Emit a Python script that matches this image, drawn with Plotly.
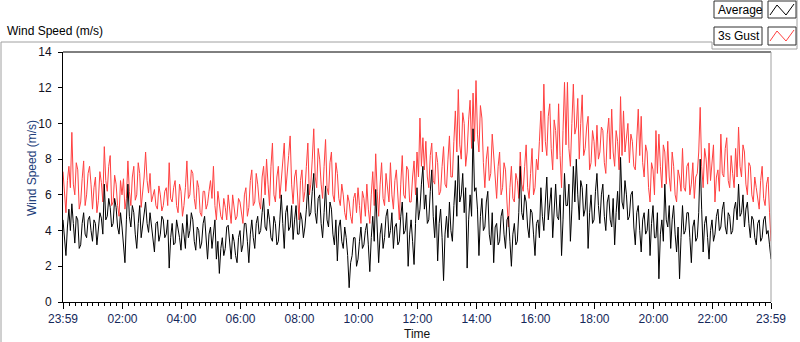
import plotly.graph_objects as go
import pandas as pd

# ---- data (3-minute samples, 23:59 -> 23:59 next day) ----
gust = [
    7.3, 5.8, 5.0, 6.8, 7.6, 6.4, 9.5, 6.6, 6.0, 7.8, 7.4, 5.2, 5.6, 6.9, 7.9, 5.4, 6.0, 7.2, 7.6, 6.6,
    5.2, 6.4, 7.0, 5.0, 5.7, 7.3, 6.7, 5.6, 8.7, 6.8, 6.2, 7.6, 8.2, 5.4, 5.6, 7.1, 6.6, 5.4, 4.8, 6.8,
    6.0, 6.9, 5.2, 5.8, 7.9, 6.2, 5.4, 7.0, 7.6, 5.7, 6.0, 7.8, 7.2, 5.3, 6.0, 7.0, 8.4, 6.8, 6.1, 7.2,
    5.6, 6.0, 6.3, 5.4, 5.2, 6.5, 6.0, 5.1, 5.4, 6.2, 6.4, 5.4, 7.8, 5.8, 5.6, 6.4, 6.8, 5.4, 5.0, 6.6,
    6.2, 4.8, 5.4, 6.4, 7.9, 5.8, 6.0, 7.4, 7.2, 5.8, 5.2, 6.8, 6.4, 5.0, 4.8, 6.2, 6.2, 5.2, 5.5, 6.2,
    6.8, 5.8, 7.6, 5.4, 4.6, 6.2, 5.6, 4.8, 4.6, 5.8, 5.3, 4.6, 6.0, 5.2, 4.4, 6.0, 5.4, 4.6, 4.8, 5.8,
    5.6, 5.0, 4.4, 6.0, 6.4, 4.8, 5.3, 6.8, 7.4, 5.4, 5.6, 7.2, 6.6, 5.6, 5.2, 7.0, 7.6, 6.0, 8.0, 6.6,
    5.4, 7.6, 8.9, 6.0, 5.6, 7.0, 7.6, 5.8, 6.8, 7.8, 8.9, 6.2, 7.0, 8.2, 9.3, 6.6, 5.5, 7.0, 7.4, 6.0,
    4.6, 6.8, 7.4, 5.6, 6.2, 7.6, 8.9, 6.0, 6.6, 8.0, 9.7, 7.0, 6.4, 8.6, 8.0, 6.6, 5.8, 7.6, 9.1, 6.4,
    6.0, 7.8, 8.4, 6.0, 5.6, 7.8, 7.2, 5.8, 5.4, 6.6, 6.0, 5.0, 4.6, 6.0, 5.6, 4.8, 4.4, 5.8, 6.1, 5.0,
    6.4, 5.4, 4.4, 6.2, 5.8, 4.8, 6.6, 5.2, 4.4, 6.0, 7.3, 5.4, 8.3, 6.2, 4.8, 6.6, 7.8, 5.8, 5.4, 7.2,
    6.4, 5.6, 7.8, 6.0, 5.2, 6.8, 7.4, 5.6, 4.6, 6.6, 8.2, 6.0, 5.8, 7.6, 7.4, 5.6, 5.6, 7.0, 7.9, 6.0,
    8.4, 7.0, 10.3, 7.6, 9.2, 7.4, 9.0, 7.0, 6.4, 8.2, 8.9, 6.8, 6.6, 8.4, 7.8, 6.0, 6.2, 7.6, 8.7, 6.6,
    6.4, 8.0, 9.3, 7.0, 7.0, 9.0, 10.7, 8.4, 11.9, 8.8, 8.0, 10.6, 10.0, 7.6, 8.4, 10.2, 11.3, 8.6, 11.7, 9.0,
    12.4, 9.4, 8.4, 11.0, 10.3, 7.8, 6.4, 8.0, 8.7, 6.8, 7.2, 9.4, 8.2, 6.6, 5.8, 7.6, 8.4, 6.0, 6.4, 7.8,
    7.4, 5.6, 4.2, 6.4, 7.6, 5.8, 5.6, 7.2, 6.8, 5.8, 8.4, 6.6, 6.2, 7.6, 8.8, 6.4, 5.8, 7.2, 8.6, 6.0,
    6.4, 8.0, 7.4, 9.0, 10.7, 8.4, 12.2, 9.0, 8.2, 10.4, 11.1, 8.6, 7.4, 10.2, 9.6, 8.0, 11.1, 8.2, 6.4, 9.6,
    12.3, 8.8, 12.3, 8.6, 7.6, 10.0, 12.2, 9.4, 9.8, 11.4, 8.0, 10.0, 11.6, 8.2, 8.6, 9.8, 10.4, 7.4, 7.8, 9.6,
    9.0, 7.6, 9.9, 8.0, 8.4, 9.8, 9.6, 7.8, 7.2, 9.4, 10.3, 8.0, 10.8, 8.4, 7.6, 9.6, 9.0, 7.4, 11.5, 8.2,
    10.7, 8.4, 9.2, 10.0, 7.8, 9.4, 9.0, 7.6, 7.4, 9.6, 10.8, 8.2, 10.4, 7.8, 7.0, 8.8, 8.4, 6.4, 5.6, 7.8,
    7.4, 6.0, 9.6, 7.2, 9.4, 7.6, 6.4, 8.8, 8.4, 6.6, 9.0, 7.0, 6.2, 8.4, 7.6, 6.0, 5.6, 7.4, 7.0, 6.2,
    8.6, 6.4, 6.2, 7.6, 7.8, 6.0, 6.6, 7.8, 5.8, 7.0, 7.2, 8.4, 10.9, 7.6, 6.4, 8.6, 8.0, 6.6, 8.9, 6.8,
    7.6, 8.8, 5.6, 7.0, 7.4, 6.2, 9.4, 7.2, 7.0, 8.6, 9.2, 6.8, 6.4, 8.2, 7.2, 6.4, 8.6, 7.0, 9.8, 7.6,
    7.0, 8.8, 8.4, 6.6, 6.0, 7.8, 7.6, 6.0, 5.6, 7.0, 6.4, 5.6, 5.2, 6.8, 7.6, 5.8, 5.4, 6.6, 7.0, 5.0,
    3.4,
]

average = [
    4.6, 3.6, 2.6, 4.2, 5.2, 4.0, 5.5, 4.4, 3.3, 4.8, 4.6, 3.0, 3.2, 4.4, 5.0, 3.8, 3.6, 4.6, 4.8, 4.0,
    3.4, 4.6, 4.4, 3.2, 4.0, 5.0, 4.7, 3.8, 6.6, 4.6, 4.8, 5.8, 5.3, 4.2, 4.4, 5.8, 5.3, 4.2, 3.8, 5.0,
    4.2, 3.4, 2.2, 4.6, 6.6, 4.8, 4.2, 5.4, 5.0, 3.8, 3.0, 4.4, 5.4, 3.6, 4.4, 5.2, 5.6, 4.4, 3.9, 5.0,
    4.2, 3.6, 2.8, 4.4, 4.5, 3.4, 3.8, 4.8, 4.6, 3.6, 3.8, 4.6, 1.9, 3.6, 4.4, 3.2, 3.3, 4.6, 4.2, 3.6,
    2.9, 4.4, 3.8, 3.0, 4.9, 3.6, 4.0, 5.0, 4.6, 3.4, 2.9, 4.2, 4.0, 3.0, 3.3, 4.4, 4.8, 3.6, 2.4, 3.8,
    4.2, 3.0, 3.8, 4.6, 2.4, 3.4, 1.6, 3.0, 3.6, 2.6, 3.0, 4.2, 4.3, 3.2, 2.4, 3.8, 3.4, 2.6, 2.2, 3.6,
    4.0, 2.8, 3.2, 4.4, 4.4, 3.4, 2.2, 3.8, 4.6, 3.6, 3.0, 4.4, 4.8, 3.8, 4.0, 5.0, 5.8, 4.2, 4.0, 5.2,
    4.6, 3.6, 3.4, 4.8, 4.4, 3.2, 3.4, 4.6, 6.0, 4.4, 3.0, 5.0, 5.4, 4.0, 4.2, 5.4, 3.5, 4.6, 5.4, 3.8,
    3.8, 5.0, 4.6, 3.6, 4.2, 5.2, 6.6, 4.8, 5.0, 6.2, 7.2, 5.0, 4.4, 5.8, 6.0, 4.4, 3.6, 5.0, 6.5, 4.6,
    4.2, 5.6, 5.2, 3.8, 3.2, 4.6, 2.3, 4.2, 4.6, 3.4, 3.0, 4.2, 3.6, 2.6, 0.8, 2.2, 2.6, 3.6, 3.6, 2.0,
    2.4, 3.4, 4.2, 3.0, 3.2, 4.0, 4.4, 3.2, 1.7, 3.6, 4.8, 3.4, 6.3, 4.2, 2.2, 3.8, 4.4, 3.0, 3.6, 4.8,
    5.2, 3.6, 4.0, 5.0, 3.0, 4.2, 4.4, 3.2, 3.4, 4.8, 5.6, 3.8, 4.0, 5.0, 2.0, 3.8, 4.6, 3.4, 2.1, 4.4,
    6.4, 4.6, 5.2, 6.6, 7.6, 5.2, 6.0, 4.4, 4.6, 6.2, 7.4, 4.8, 3.6, 5.4, 2.3, 4.4, 5.2, 3.6, 1.2, 3.8,
    4.8, 3.6, 5.6, 4.0, 3.4, 5.4, 6.8, 4.8, 8.2, 5.6, 6.0, 7.2, 5.0, 6.4, 1.9, 4.6, 6.0, 4.8, 9.7, 6.2,
    6.4, 5.2, 2.6, 4.8, 5.8, 4.0, 4.2, 5.6, 6.2, 3.8, 3.2, 5.0, 2.2, 4.2, 4.4, 3.2, 3.4, 4.8, 5.2, 3.8,
    3.0, 4.6, 4.8, 3.4, 2.0, 3.8, 4.4, 3.2, 3.4, 5.0, 7.6, 5.0, 4.6, 6.0, 5.6, 4.2, 3.6, 5.2, 5.0, 3.8,
    2.6, 4.4, 4.6, 3.6, 6.4, 4.8, 4.0, 5.6, 7.0, 4.6, 5.4, 6.4, 3.6, 5.0, 6.6, 4.8, 4.6, 6.0, 2.6, 4.6,
    7.2, 5.4, 5.4, 6.6, 3.4, 5.2, 7.6, 5.6, 8.0, 6.0, 4.6, 6.8, 6.4, 4.8, 5.2, 6.6, 3.0, 5.0, 6.0, 4.4,
    4.6, 6.2, 7.2, 5.4, 4.4, 6.0, 6.6, 4.8, 4.0, 5.6, 6.0, 4.6, 4.2, 5.8, 3.2, 5.0, 6.2, 4.6, 8.1, 5.6,
    5.2, 6.8, 6.0, 4.6, 4.8, 6.0, 6.2, 4.2, 3.2, 5.0, 5.4, 4.0, 2.8, 4.6, 5.0, 3.8, 4.0, 5.2, 2.6, 4.4,
    5.4, 3.6, 3.6, 5.0, 1.3, 3.8, 4.6, 3.4, 6.6, 4.6, 4.2, 5.4, 3.0, 4.6, 5.4, 3.8, 2.8, 4.2, 1.3, 3.6,
    5.4, 3.8, 4.0, 5.0, 5.0, 3.6, 2.2, 4.2, 4.6, 3.4, 3.6, 5.0, 8.0, 5.2, 2.8, 4.4, 4.8, 3.6, 2.4, 4.0,
    4.6, 3.4, 3.8, 4.8, 5.2, 4.0, 4.2, 5.2, 5.6, 4.2, 3.8, 5.0, 4.8, 3.8, 4.0, 5.2, 5.6, 4.6, 6.6, 4.8,
    5.0, 6.0, 4.2, 5.2, 5.6, 4.4, 3.6, 4.8, 4.6, 3.6, 3.2, 4.4, 4.6, 3.4, 3.6, 4.6, 4.8, 3.8, 4.0, 3.2,
    2.4,
]

times = pd.date_range("2000-01-01 23:59", periods=len(gust), freq="3min")

tick_vals = ["2000-01-01 23:59", "2000-01-02 02:00", "2000-01-02 04:00", "2000-01-02 06:00",
             "2000-01-02 08:00", "2000-01-02 10:00", "2000-01-02 12:00", "2000-01-02 14:00",
             "2000-01-02 16:00", "2000-01-02 18:00", "2000-01-02 20:00", "2000-01-02 22:00",
             "2000-01-02 23:59"]
tick_text = ["23:59", "02:00", "04:00", "06:00", "08:00", "10:00", "12:00", "14:00",
             "16:00", "18:00", "20:00", "22:00", "23:59"]

# ---- layout helpers (pixel -> paper) ----
L, R, T, B = 63, 771, 52, 302
W, H = 800, 342


def px(x):
    return (x - L) / (R - L)


def py(y):
    return (B - y) / (B - T)


FONT = "Liberation Sans"
GREY = "#a0a0a0"

fig = go.Figure()
fig.add_trace(go.Scatter(x=times, y=gust, mode="lines", name="3s Gust",
                         line=dict(color="#ff4040", width=1), showlegend=False))
fig.add_trace(go.Scatter(x=times[:len(average)], y=average, mode="lines", name="Average",
                         line=dict(color="#000000", width=1), showlegend=False))

shapes = []


def line(x0, y0, x1, y1, color, width=1):
    shapes.append(dict(type="line", xref="paper", yref="paper",
                       x0=px(x0), y0=py(y0), x1=px(x1), y1=py(y1),
                       line=dict(color=color, width=width)))


def rect(x0, y0, x1, y1, color):
    shapes.append(dict(type="rect", xref="paper", yref="paper",
                       x0=px(x0), y0=py(y0), x1=px(x1), y1=py(y1),
                       line=dict(color=color, width=1), fillcolor="white"))


def zigzag(pts, color):
    path = "M " + " L ".join(f"{px(a)},{py(b)}" for a, b in pts)
    shapes.append(dict(type="path", xref="paper", yref="paper", path=path,
                       line=dict(color=color, width=1)))


# outer frame
line(1, 42, 1, 342, GREY)
line(1, 42, 712, 42, GREY)
line(712, 42, 712, 49, GREY)
line(712, 49, 797, 49, GREY)
line(797, 0, 797, 49, GREY)
# plot area top / right border
line(L, T, R, T, "#000000")
line(R, T, R, B, GREY)
# legend boxes
rect(714, 1, 762, 18, "#303030")
rect(768, 1, 796, 18, "#303030")
rect(714, 27, 762, 45, "#303030")
rect(768, 27, 796, 45, "#303030")
zigzag([(770, 15), (777, 5), (786, 15), (794, 4)], "#000000")
zigzag([(770, 41), (777, 31), (786, 41), (794, 30)], "#ff4040")

annotations = [
    dict(text="Wind Speed (m/s)", x=px(5), y=py(31), xanchor="left", yanchor="middle",
         font=dict(size=12, color="#000000", family=FONT)),
    dict(text="Average", x=px(716), y=py(10), xanchor="left", yanchor="middle",
         font=dict(size=12, color="#000000", family=FONT)),
    dict(text="3s Gust", x=px(716), y=py(36), xanchor="left", yanchor="middle",
         font=dict(size=12, color="#000000", family=FONT)),
    dict(text="Wind Speed (m/s)", x=px(32), y=py(168), xanchor="center", yanchor="middle",
         textangle=-90, font=dict(size=12, color="#23407a", family=FONT)),
    dict(text="Time", x=px(417), y=py(334), xanchor="center", yanchor="middle",
         font=dict(size=12, color="#111111", family=FONT)),
]
for a in annotations:
    a.update(xref="paper", yref="paper", showarrow=False)

fig.update_layout(
    width=W, height=H,
    margin=dict(l=L, r=W - R, t=T, b=H - B, pad=0),
    paper_bgcolor="white", plot_bgcolor="white",
    font=dict(family=FONT, size=12, color="#000000"),
    shapes=shapes, annotations=annotations,
    showlegend=False,
)
fig.update_xaxes(
    range=[times[0], times[-1]],
    tickmode="array", tickvals=tick_vals, ticktext=tick_text,
    ticks="outside", ticklen=6, tickcolor="#000000", tickwidth=1,
    showline=True, linecolor="#000000", linewidth=1,
    showgrid=False, zeroline=False,
    tickfont=dict(size=12, color="#14285a", family=FONT),
    minor=dict(ticks="outside", ticklen=3, tickcolor="#000000", tickwidth=1,
               tick0="2000-01-02 00:00", dtick=12 * 60 * 1000, showgrid=False),
)
fig.update_yaxes(
    range=[0, 14], tickmode="linear", tick0=0, dtick=2,
    ticks="outside", ticklen=4, tickcolor="#000000", tickwidth=1,
    showline=True, linecolor="#000000", linewidth=1,
    showgrid=False, zeroline=False,
    tickfont=dict(size=12, color="#111122", family=FONT),
    ticklabelstandoff=4,
)

fig.write_html(
    "out.html",
    config={"displayModeBar": False},
    post_script="document.body.style.margin='0';document.body.style.overflow='hidden';",
)
